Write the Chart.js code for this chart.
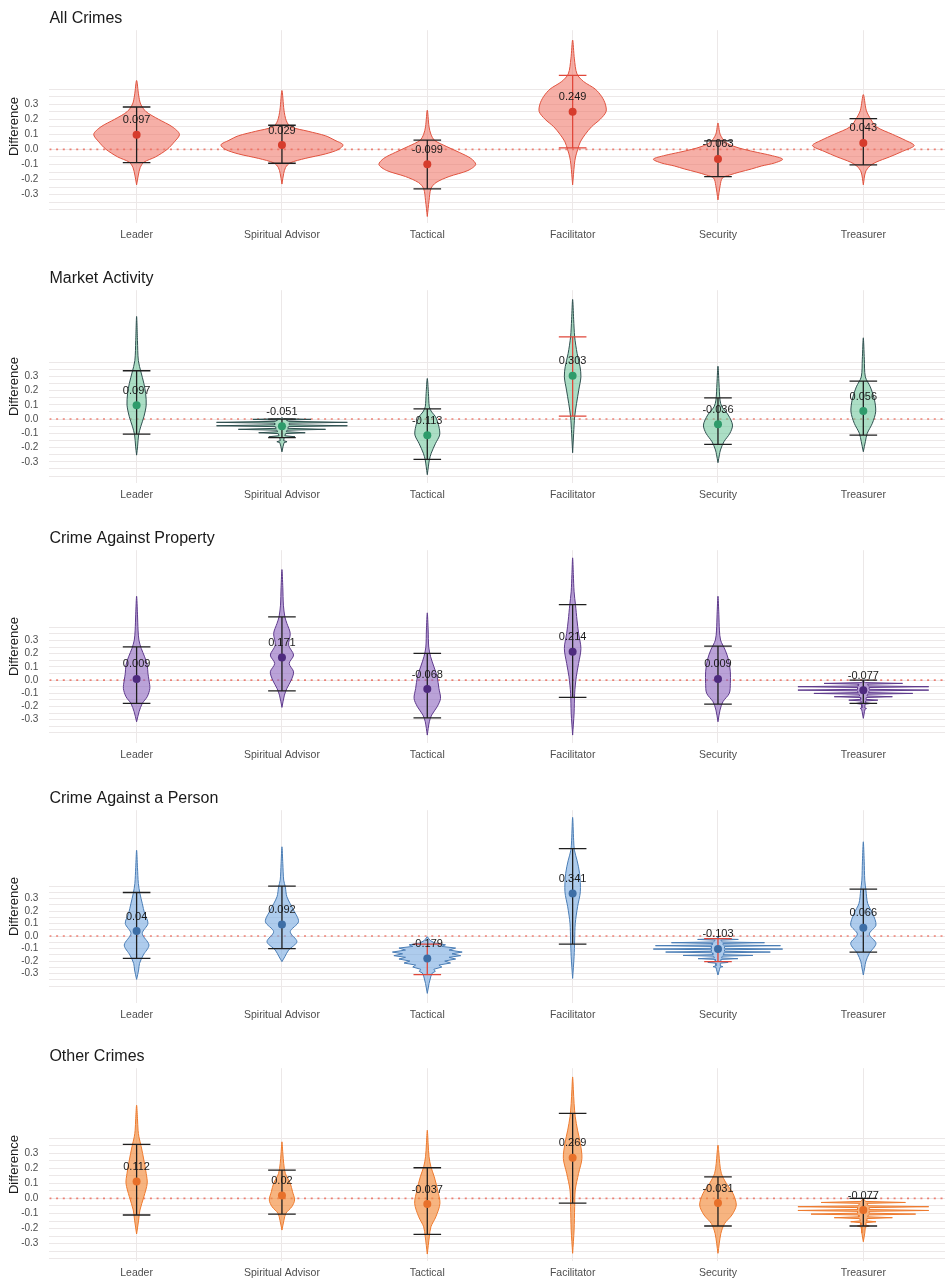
<!DOCTYPE html>
<html>
<head>
<meta charset="utf-8">
<title>Difference by role</title>
<script src="https://cdn.jsdelivr.net/npm/chart.js@4.4.1/dist/chart.umd.min.js"></script>
<style>
  body { margin: 0; background: #fff; width: 949px; height: 1280px; overflow: hidden; position: relative; }
  canvas { position: absolute; left: 0; }
</style>
</head>
<body>
<canvas id="p0" width="949" height="258" style="top:0px"></canvas>
<canvas id="p1" width="949" height="258" style="top:260px"></canvas>
<canvas id="p2" width="949" height="258" style="top:520px"></canvas>
<canvas id="p3" width="949" height="258" style="top:780px"></canvas>
<canvas id="p4" width="949" height="258" style="top:1038px"></canvas>
<script>
// categorias e titulos
const categories = ['Leader', 'Spiritual Advisor', 'Tactical', 'Facilitator', 'Security', 'Treasurer'];
const panelTitles = ['All Crimes', 'Market Activity', 'Crime Against Property', 'Crime Against a Person', 'Other Crimes'];

// linhas de grade e rotulos do eixo y
const gridLevels = [-0.4, -0.35, -0.3, -0.25, -0.2, -0.15, -0.1, -0.05, 0, 0.05, 0.1, 0.15, 0.2, 0.25, 0.3, 0.35, 0.4];
const yLabelValues = [-0.3, -0.2, -0.1, 0, 0.1, 0.2, 0.3];
const panelYMin = [-0.488, -0.4485, -0.477, -0.536, -0.415];
const panelYMax = [0.79, 0.904, 0.985, 1.008, 0.863];

// All Crimes
const allCrimesMean = [0.097, 0.029, -0.099, 0.249, -0.063, 0.043];
const allCrimesLow = [-0.088, -0.092, -0.262, 0.01, -0.18, -0.103];
const allCrimesHigh = [0.281, 0.16, 0.061, 0.49, 0.057, 0.204];
const allCrimesRed = [false, false, false, true, false, false];
// violino: [valor, meia largura em unidades de categoria]
const allCrimesViolins = [
  [[-0.235,0],[-0.17,0.012],[-0.12,0.025],[-0.085,0.05],[-0.05,0.13],[0,0.21],[0.05,0.26],[0.1,0.295],[0.15,0.245],[0.2,0.15],[0.25,0.065],[0.3,0.028],[0.36,0.014],[0.457,0]],
  [[-0.23,0],[-0.16,0.012],[-0.12,0.025],[-0.09,0.055],[-0.06,0.16],[-0.03,0.3],[0,0.39],[0.03,0.42],[0.06,0.365],[0.09,0.3],[0.12,0.18],[0.15,0.06],[0.19,0.03],[0.26,0.014],[0.39,0]],
  [[-0.445,0],[-0.34,0.012],[-0.26,0.025],[-0.22,0.06],[-0.18,0.15],[-0.14,0.28],[-0.1,0.333],[-0.06,0.3],[-0.02,0.22],[0.02,0.13],[0.06,0.05],[0.1,0.025],[0.15,0.012],[0.26,0]],
  [[-0.235,0],[-0.1,0.012],[-0.05,0.02],[0,0.035],[0.05,0.053],[0.1,0.087],[0.15,0.13],[0.2,0.19],[0.25,0.23],[0.3,0.225],[0.35,0.2],[0.4,0.155],[0.45,0.075],[0.5,0.03],[0.6,0.012],[0.725,0]],
  [[-0.335,0],[-0.24,0.015],[-0.19,0.03],[-0.17,0.08],[-0.15,0.15],[-0.13,0.23],[-0.11,0.3],[-0.09,0.39],[-0.065,0.445],[-0.04,0.365],[-0.02,0.27],[0,0.18],[0.02,0.11],[0.05,0.05],[0.1,0.015],[0.175,0]],
  [[-0.235,0],[-0.15,0.015],[-0.11,0.045],[-0.085,0.087],[-0.05,0.18],[-0.013,0.27],[0.025,0.35],[0.06,0.29],[0.1,0.2],[0.15,0.09],[0.21,0.045],[0.26,0.02],[0.363,0]]
];

// Market Activity
const marketMean = [0.097, -0.051, -0.113, 0.303, -0.036, 0.056];
const marketLow = [-0.105, -0.13, -0.283, 0.021, -0.177, -0.112];
const marketHigh = [0.339, 0.0, 0.072, 0.577, 0.149, 0.266];
const marketRed = [false, false, false, true, false, false];
const marketViolins = [
  [[-0.253,0],[-0.19,0.007],[-0.11,0.014],[-0.054,0.028],[0.016,0.05],[0.098,0.066],[0.18,0.062],[0.25,0.05],[0.33,0.03],[0.41,0.012],[0.55,0.006],[0.72,0]],
  [[-0.23,0],[-0.19,0.008],[-0.165,0.015],[-0.159,0.035],[-0.152,0.012],[-0.13,0.015],[-0.124,0.09],[-0.117,0.02],[-0.102,0.025],[-0.096,0.16],[-0.089,0.03],[-0.078,0.035],[-0.072,0.3],[-0.065,0.04],[-0.053,0.045],[-0.047,0.45],[-0.04,0.05],[-0.029,0.05],[-0.023,0.45],[-0.016,0.045],[-0.007,0.03],[-0.002,0.2],[0.003,0.01],[0.01,0]],
  [[-0.39,0],[-0.33,0.008],[-0.287,0.014],[-0.24,0.027],[-0.17,0.057],[-0.112,0.085],[-0.054,0.08],[0.016,0.057],[0.05,0.03],[0.086,0.014],[0.18,0.008],[0.285,0]],
  [[-0.236,0],[-0.1,0.007],[0.016,0.014],[0.11,0.027],[0.203,0.042],[0.296,0.057],[0.367,0.051],[0.46,0.031],[0.577,0.014],[0.7,0.007],[0.839,0]],
  [[-0.306,0],[-0.25,0.01],[-0.217,0.017],[-0.159,0.041],[-0.1,0.082],[-0.042,0.1],[0.028,0.071],[0.086,0.027],[0.133,0.014],[0.25,0.007],[0.371,0]],
  [[-0.229,0],[-0.159,0.014],[-0.1,0.027],[-0.03,0.062],[0.051,0.085],[0.133,0.077],[0.226,0.048],[0.296,0.014],[0.42,0.007],[0.57,0]]
];

// Crime Against Property
const propertyMean = [0.009, 0.171, -0.068, 0.214, 0.009, -0.077];
const propertyLow = [-0.177, -0.081, -0.286, -0.131, -0.182, -0.177];
const propertyHigh = [0.252, 0.48, 0.202, 0.573, 0.258, 0.0];
const propertyRed = [false, false, false, false, false, false];
const propertyViolins = [
  [[-0.316,0],[-0.24,0.017],[-0.177,0.039],[-0.126,0.073],[-0.063,0.091],[0,0.085],[0.05,0.078],[0.114,0.073],[0.177,0.055],[0.24,0.032],[0.303,0.016],[0.379,0.01],[0.5,0.006],[0.636,0]],
  [[-0.207,0],[-0.114,0.017],[-0.063,0.034],[0,0.064],[0.063,0.08],[0.126,0.05],[0.19,0.08],[0.265,0.046],[0.354,0.057],[0.43,0.034],[0.48,0.02],[0.568,0.01],[0.7,0.006],[0.838,0]],
  [[-0.417,0],[-0.316,0.014],[-0.265,0.03],[-0.202,0.068],[-0.139,0.091],[-0.063,0.08],[0.025,0.068],[0.1,0.046],[0.177,0.023],[0.25,0.01],[0.38,0.006],[0.51,0]],
  [[-0.417,0],[-0.25,0.01],[-0.1,0.014],[0.025,0.025],[0.126,0.041],[0.24,0.057],[0.354,0.041],[0.455,0.03],[0.568,0.02],[0.669,0.01],[0.8,0.005],[0.927,0]],
  [[-0.316,0],[-0.227,0.014],[-0.164,0.034],[-0.1,0.078],[-0.025,0.085],[0.063,0.085],[0.152,0.073],[0.227,0.05],[0.303,0.018],[0.379,0.01],[0.5,0.006],[0.636,0]],
  [[-0.29,0],[-0.24,0.008],[-0.22,0.012],[-0.215,0.022],[-0.21,0.01],[-0.183,0.012],[-0.177,0.05],[-0.171,0.014],[-0.158,0.016],[-0.152,0.1],[-0.146,0.018],[-0.132,0.02],[-0.126,0.2],[-0.12,0.025],[-0.107,0.03],[-0.101,0.34],[-0.095,0.035],[-0.082,0.04],[-0.076,0.45],[-0.07,0.04],[-0.056,0.04],[-0.05,0.45],[-0.044,0.035],[-0.031,0.03],[-0.025,0.27],[-0.019,0.015],[-0.01,0]]
];

// Crime Against a Person
const personMean = [0.04, 0.092, -0.179, 0.341, -0.103, 0.066];
const personLow = [-0.179, -0.101, -0.309, -0.064, -0.205, -0.128];
const personHigh = [0.349, 0.4, -0.064, 0.701, -0.021, 0.376];
const personRed = [false, false, true, false, true, false];
const personViolins = [
  [[-0.347,0],[-0.272,0.014],[-0.219,0.02],[-0.152,0.046],[-0.072,0.085],[0.021,0.039],[0.101,0.078],[0.181,0.055],[0.261,0.039],[0.341,0.023],[0.421,0.012],[0.55,0.006],[0.688,0]],
  [[-0.205,0],[-0.165,0.02],[-0.112,0.046],[-0.045,0.103],[0.035,0.057],[0.115,0.114],[0.208,0.08],[0.315,0.034],[0.395,0.023],[0.448,0.012],[0.58,0.006],[0.715,0]],
  [[-0.459,0],[-0.38,0.012],[-0.32,0.025],[-0.295,0.035],[-0.283,0.055],[-0.266,0.045],[-0.248,0.1],[-0.232,0.08],[-0.216,0.16],[-0.2,0.12],[-0.184,0.195],[-0.17,0.15],[-0.157,0.23],[-0.142,0.17],[-0.128,0.24],[-0.112,0.15],[-0.096,0.195],[-0.083,0.1],[-0.07,0.125],[-0.055,0.05],[-0.035,0.02],[-0.005,0]],
  [[-0.339,0],[-0.165,0.01],[-0.032,0.014],[0.101,0.018],[0.235,0.034],[0.355,0.053],[0.501,0.048],[0.608,0.03],[0.688,0.012],[0.768,0.007],[0.95,0]],
  [[-0.312,0],[-0.27,0.01],[-0.25,0.014],[-0.245,0.034],[-0.238,0.014],[-0.217,0.016],[-0.211,0.07],[-0.204,0.018],[-0.187,0.02],[-0.181,0.137],[-0.175,0.025],[-0.161,0.03],[-0.155,0.24],[-0.149,0.035],[-0.134,0.04],[-0.128,0.36],[-0.122,0.045],[-0.11,0.045],[-0.104,0.445],[-0.098,0.045],[-0.083,0.045],[-0.077,0.43],[-0.071,0.04],[-0.059,0.035],[-0.053,0.32],[-0.047,0.03],[-0.033,0.02],[-0.027,0.14],[-0.021,0.01],[-0.005,0]],
  [[-0.312,0],[-0.25,0.01],[-0.205,0.017],[-0.139,0.041],[-0.059,0.087],[0.016,0.041],[0.088,0.087],[0.181,0.064],[0.261,0.03],[0.368,0.018],[0.448,0.01],[0.6,0.006],[0.755,0]]
];

// Other Crimes
const otherMean = [0.112, 0.02, -0.037, 0.269, -0.031, -0.077];
const otherLow = [-0.11, -0.104, -0.239, -0.031, -0.183, -0.183];
const otherHigh = [0.358, 0.187, 0.203, 0.563, 0.143, 0.0];
const otherRed = [false, false, false, false, false, false];
const otherViolins = [
  [[-0.236,0],[-0.144,0.014],[-0.077,0.023],[0.011,0.05],[0.1,0.073],[0.166,0.066],[0.254,0.05],[0.342,0.032],[0.408,0.016],[0.452,0.01],[0.53,0.006],[0.618,0]],
  [[-0.21,0],[-0.144,0.014],[-0.099,0.027],[-0.055,0.068],[-0.011,0.087],[0.044,0.073],[0.1,0.057],[0.166,0.023],[0.232,0.012],[0.3,0.006],[0.375,0]],
  [[-0.369,0],[-0.254,0.014],[-0.188,0.025],[-0.122,0.059],[-0.033,0.087],[0.055,0.071],[0.143,0.048],[0.209,0.025],[0.276,0.012],[0.36,0.006],[0.452,0]],
  [[-0.364,0],[-0.21,0.01],[-0.055,0.014],[0.055,0.018],[0.166,0.041],[0.265,0.064],[0.364,0.053],[0.452,0.034],[0.541,0.018],[0.629,0.01],[0.72,0.005],[0.805,0]],
  [[-0.364,0],[-0.232,0.02],[-0.166,0.046],[-0.11,0.096],[-0.044,0.126],[0.033,0.103],[0.1,0.057],[0.166,0.023],[0.232,0.012],[0.3,0.006],[0.353,0]],
  [[-0.287,0],[-0.23,0.01],[-0.19,0.014],[-0.183,0.041],[-0.176,0.016],[-0.161,0.018],[-0.155,0.087],[-0.149,0.02],[-0.134,0.025],[-0.128,0.2],[-0.122,0.03],[-0.11,0.035],[-0.104,0.36],[-0.098,0.04],[-0.086,0.04],[-0.08,0.45],[-0.074,0.04],[-0.061,0.04],[-0.055,0.45],[-0.049,0.035],[-0.033,0.025],[-0.027,0.29],[-0.02,0.015],[0,0]]
];

// violinos com listras (dados discretos) -> sem suavizacao
const stripedViolins = [[], [1], [5], [2, 4], [5]];

// cores de cada painel
const panelFill = ['rgba(238,110,95,0.55)', 'rgba(102,194,150,0.55)', 'rgba(140,100,190,0.6)', 'rgba(120,170,225,0.6)', 'rgba(242,140,60,0.65)'];
const panelLine = ['#E0533F', '#2F4F4F', '#5E3A8C', '#4A7DB5', '#EE7A2E'];
const panelDot = ['#D63C2C', '#2E9B6B', '#4E2A7E', '#3D6EA6', '#E8702A'];

const panelMean = [allCrimesMean, marketMean, propertyMean, personMean, otherMean];
const panelLow = [allCrimesLow, marketLow, propertyLow, personLow, otherLow];
const panelHigh = [allCrimesHigh, marketHigh, propertyHigh, personHigh, otherHigh];
const panelRed = [allCrimesRed, marketRed, propertyRed, personRed, otherRed];
const panelViolins = [allCrimesViolins, marketViolins, propertyViolins, personViolins, otherViolins];

const X_MIN = -0.6, X_MAX = 5.562;
const CAP = 0.095;
const gridColor = '#ECE8E8';

Chart.defaults.font.family = "'Liberation Sans', Arial, sans-serif";
Chart.defaults.animation = false;

// rotulo da media acima do ponto
const meanLabels = {
  id: 'meanLabels',
  afterDatasetsDraw(chart, args, opts) {
    const ctx = chart.ctx;
    const means = panelMean[opts.panel];
    ctx.save();
    ctx.font = "11px 'Liberation Sans', Arial, sans-serif";
    ctx.fillStyle = '#1a1a1a';
    ctx.textAlign = 'center';
    ctx.textBaseline = 'middle';
    means.forEach((m, i) => {
      const x = chart.scales.x.getPixelForValue(i);
      const y = chart.scales.y.getPixelForValue(m) - 14.5;
      ctx.fillText(String(m), x, y);
    });
    ctx.restore();
  }
};

function violinPoints(prof, i) {
  const pts = [];
  prof.forEach(p => pts.push({x: i + p[1], y: p[0]}));
  for (let j = prof.length - 2; j >= 1; j--) pts.push({x: i - prof[j][1], y: prof[j][0]});
  pts.push({x: i, y: prof[0][0]});
  return pts;
}

function desenhaPainel(k) {
  const datasets = [];

  // linha pontilhada no zero
  datasets.push({
    data: [{x: X_MIN, y: 0}, {x: X_MAX + 0.1, y: 0}],
    borderColor: 'rgba(235,100,85,0.8)', borderWidth: 1.6, borderDash: [2, 4.7],
    pointRadius: 0, fill: false, order: 6
  });

  panelViolins[k].forEach((prof, i) => {
    const striped = stripedViolins[k].includes(i);
    datasets.push({
      data: violinPoints(prof, i),
      borderColor: panelLine[k], backgroundColor: panelFill[k], borderWidth: 1,
      fill: 'shape', tension: striped ? 0 : 0.3, pointRadius: 0, order: 4
    });
  });

  panelMean[k].forEach((m, i) => {
    const lo = panelLow[k][i], hi = panelHigh[k][i];
    datasets.push({
      data: [
        {x: i - CAP, y: hi}, {x: i + CAP, y: hi}, {x: i, y: null},
        {x: i, y: hi}, {x: i, y: lo}, {x: i, y: null},
        {x: i - CAP, y: lo}, {x: i + CAP, y: lo}
      ],
      borderColor: panelRed[k][i] ? '#E0473A' : '#1f1f1f', borderWidth: 1.3,
      pointRadius: 0, fill: false, tension: 0, spanGaps: false, order: 2
    });
  });

  datasets.push({
    data: panelMean[k].map((m, i) => ({x: i, y: m})),
    showLine: false, pointRadius: 4, pointBorderWidth: 0,
    pointBackgroundColor: panelDot[k], order: 0
  });

  new Chart(document.getElementById('p' + k), {
    type: 'line',
    data: { datasets: datasets },
    plugins: [meanLabels],
    options: {
      responsive: false,
      animation: false,
      layout: { padding: 0 },
      plugins: {
        legend: { display: false },
        tooltip: { enabled: false },
        title: {
          display: true, text: panelTitles[k], align: 'start', fullSize: false,
          color: '#1a1a1a', font: { size: 16, weight: 'normal' },
          padding: { top: 9, bottom: 2 }
        },
        meanLabels: { panel: k }
      },
      scales: {
        x: {
          type: 'linear', min: X_MIN, max: X_MAX,
          afterBuildTicks: s => { s.ticks = categories.map((c, i) => ({value: i})); },
          afterFit: s => { s.height = 35; },
          ticks: {
            callback: v => categories[v], autoSkip: false, maxRotation: 0,
            color: '#4d4d4d', font: { size: 10.5 }, padding: 6
          },
          grid: { color: gridColor, drawTicks: false, lineWidth: 1 },
          border: { display: false }
        },
        y: {
          type: 'linear', min: panelYMin[k], max: panelYMax[k],
          afterBuildTicks: s => { s.ticks = gridLevels.map(v => ({value: v})); },
          afterFit: s => { s.width = 49.4; },
          ticks: {
            callback: v => yLabelValues.some(l => Math.abs(l - v) < 1e-9) ? v.toFixed(1) : '',
            autoSkip: false, color: '#4d4d4d', font: { size: 10 }, padding: 11
          },
          grid: { color: gridColor, drawTicks: false, lineWidth: 1 },
          border: { display: false },
          title: {
            display: true, text: 'Difference', color: '#1a1a1a',
            font: { size: 13 }, padding: { top: 7, bottom: 0 }
          }
        }
      }
    }
  });
}

for (let k = 0; k < 5; k++) desenhaPainel(k);
</script>
</body>
</html>
